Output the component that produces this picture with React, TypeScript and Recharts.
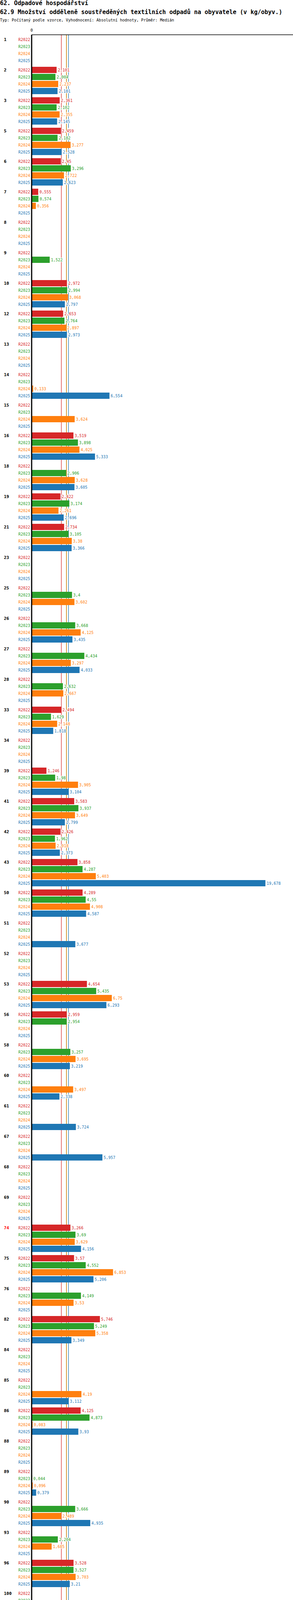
import { BarChart, Bar, XAxis, YAxis, ReferenceLine, LabelList } from "recharts";

const MONO = "'DejaVu Sans Mono', monospace";

const groups = [
  "1", "2", "3", "5", "6", "7", "8", "9", "10", "12",
  "13", "14", "15", "16", "18", "19", "21", "23", "25", "26",
  "27", "28", "33", "34", "39", "41", "42", "43", "50", "51",
  "52", "53", "56", "58", "60", "61", "67", "68", "69", "74",
  "75", "76", "82", "84", "85", "86", "88", "89", "90", "93",
  "96", "100", "101", "102", "106", "111", "112", "113", "114", "115",
  "118", "121", "122", "125", "126", "129", "130", "131", "132", "134",
  "135", "136", "138", "139", "140", "141", "144", "145", "146", "147",
  "151", "152", "153", "154", "155", "1000", "9999",
];

const highlighted = ["74"];

const r2022 = [
  null, 2.101, 2.361, 2.459, 2.45, 0.555, null, null, 2.972, 2.653,
  null, 0, null, 3.519, null, 2.422, 2.734, null, null, null,
  null, null, 2.494, 0, 1.246, 3.583, 2.426, 3.858, 4.289, 0,
  null, 4.654, 2.959, null, null, 0, null, null, null, 3.266,
  3.57, null, 5.746, null, 0, 4.125, null, 0, null, null,
  3.528, null, null, 3.135, null, 2.819, 0, 0, null, 2.656,
  null, 3.466, null, 4.024, 3.236, null, null, null, 2.011, 2.87,
  4.319, null, null, 2.506, 0.098, 1.753, 0, 0, 0.072, null,
  null, null, null, null, null, null, null,
];

const r2023 = [
  null, 2.004, 2.102, 2.182, 3.296, 0.574, null, 1.522, 2.994, 2.764,
  null, 0, null, 3.898, 2.906, 3.174, 3.105, null, 3.4, 3.668,
  4.434, 2.632, 1.629, 0, 1.98, 3.937, 1.962, 4.287, 4.55, 0,
  null, 5.435, 2.954, 3.257, null, 0, null, null, null, 3.69,
  4.552, 4.149, 5.249, null, 0, 4.873, null, 0.044, 3.666, 2.204,
  3.527, null, 0, 3.17, 3.927, 2.912, 0, 0, 2.183, 3.685,
  null, 4.285, null, 3.651, 3.317, 0.251, null, null, 2.866, 1.192,
  3.958, 3.487, null, 1.862, 1.233, 2.538, 0.269, 3.719, 0, 3.516,
  3.516, 1.311, null, null, null, null, null,
];

const r2024 = [
  null, 2.237, 2.355, 3.277, 2.722, 0.356, null, null, 3.068, 2.897,
  null, 0.133, 3.624, 4.025, 3.628, 2.261, 3.38, null, 3.602, 4.125,
  3.297, 2.667, 2.148, 0, 3.905, 3.649, 2.018, 5.403, 4.908, 0,
  null, 6.75, null, 3.695, 3.497, 0, null, null, null, 3.629,
  6.853, 3.53, 5.358, null, 4.19, 0.083, null, 0.096, 2.489, 1.685,
  3.703, null, 0, 3.195, 0, 1.979, 0, 1.571, 2.446, 2.868,
  null, 4.336, null, 4.115, 3.803, 0, null, null, 2.762, 1.269,
  4.548, 3.313, null, 1.832, 1.348, 2.931, 0.315, 4.442, 0, 3.728,
  4.049, 1.294, 4.668, null, null, null, null,
];

const r2025 = [
  null, 2.181, 2.145, 2.528, 2.623, null, null, null, 2.797, 2.973,
  null, 6.554, null, 5.333, 3.605, 2.696, 3.366, null, null, 3.435,
  4.033, null, 1.818, 0, 3.104, 2.799, 2.373, 19.678, 4.587, 3.677,
  null, 6.293, null, 3.219, 2.338, 3.724, 5.957, null, null, 4.156,
  5.206, null, 3.349, null, 3.112, 3.93, null, 0.379, 4.935, null,
  3.21, null, 2.303, 4.06, 2.604, 1.41, null, 1.147, 2.108, 3.189,
  null, 3.159, null, 4.22, 3.39, 0, null, null, 2.394, 1.33,
  4.423, 3.164, null, 2.691, 1.369, 2.67, 0.504, 0.969, 1.336, 1.885,
  3.51, null, 6.103, 0, null, null, null,
];

const periods = ["R2022", "R2023", "R2024", "R2025"];
const colors = ["#d62728", "#2ca02c", "#ff7f0e", "#1f77b4"];
const medians = [2.5, 2.933, 2.931, 3.104];
const mins = [0, 0, 0, 0];
const maxs = [5.746, 5.435, 6.853, 19.678];
const series = [r2022, r2023, r2024, r2025];

const fmt = (v: number | null) => (v == null ? "NA" : String(v).replace(".", ","));

const rows = groups.map((id, i) => {
  const row: Record<string, string | number> = { id };
  series.forEach((s, k) => {
    row["v" + k] = s[i] ?? 0;
    row["l" + k] = fmt(s[i]);
  });
  return row;
});

const TOP = 89;
const BAND = 78;
const BAR = 16;
const GAP = 2;
const OFFSET = Math.floor((BAND - (4 * BAR + 3 * GAP)) / 2);
const rowOffset = (k: number) => -BAND / 2 + OFFSET + BAR / 2 + k * (BAR + GAP);
const chartH = TOP + groups.length * BAND + 5;

function GroupTick(props: any) {
  const { y, payload } = props;
  const red = highlighted.includes(String(payload.value));
  return (
    <g fontFamily={MONO}>
      <text x={10} y={y + rowOffset(0)} dominantBaseline="central" fontSize={11} fontWeight="bold" fill={red ? "#ff0000" : "#000"}>
        {payload.value}
      </text>
      {periods.map((p, k) => (
        <text key={p} x={77} y={y + rowOffset(k)} dominantBaseline="central" textAnchor="end" fontSize={10} fill={colors[k]}>
          {p}
        </text>
      ))}
    </g>
  );
}

const makeLabel = (color: string) => (props: any) => {
  const vb = props.viewBox ?? props;
  const x = Number(vb.x ?? props.x);
  const y = Number(vb.y ?? props.y);
  const w = Number(vb.width ?? props.width) || 0;
  const h = Number(vb.height ?? props.height) || 0;
  return (
    <text x={x + w + 3} y={y + h / 2} dominantBaseline="central" fontSize={10} fontFamily={MONO} fill={color} stroke="#fff" strokeWidth={3} paintOrder="stroke">
      {props.value}
    </text>
  );
};

const textStyle = (size: number, color: string, bold = false): React.CSSProperties => ({
  position: "absolute",
  fontFamily: MONO,
  fontSize: size,
  lineHeight: size + 2 + "px",
  color,
  fontWeight: bold ? "bold" : "normal",
  whiteSpace: "pre",
});

export default function App() {
  return (
    <div style={{ position: "relative", width: 750, height: 7028, background: "#fff", overflow: "hidden" }}>
      <style>{"body{margin:0}"}</style>
      <div style={{ ...textStyle(15, "#000", true), left: 0, top: 0 }}>62. Odpadové hospodářství</div>
      <div style={{ ...textStyle(15, "#000", true), left: 0, top: 23 }}>
        62.9 Množství odděleně soustředěných textilních odpadů na obyvatele (v kg/obyv.)
      </div>
      <div style={{ ...textStyle(10, "#000"), left: 0, top: 46 }}>
        Typ: Počítaný podle vzorce, Vyhodnocení: Absolutní hodnoty, Průměr: Medián
      </div>
      <div style={{ position: "absolute", left: 0, top: 0 }}>
        <BarChart
          width={750}
          height={chartH}
          data={rows}
          layout="vertical"
          margin={{ top: TOP - 20, right: 0, bottom: 5, left: 0 }}
          barSize={BAR}
          barGap={GAP}
        >
          <XAxis
            type="number"
            orientation="top"
            domain={[0, 22]}
            ticks={[0]}
            height={20}
            allowDataOverflow
            axisLine={{ stroke: "#000", strokeWidth: 1.5 }}
            tickLine={false}
            tickMargin={2}
            tick={{ fontSize: 10, fill: "#000", fontFamily: MONO }}
          />
          <YAxis
            type="category"
            dataKey="id"
            width={81}
            interval={0}
            axisLine={{ stroke: "#000", strokeWidth: 3 }}
            tickLine={false}
            tick={(p: any) => <GroupTick {...p} />}
          />
          {medians.map((m, k) => (
            <ReferenceLine key={k} x={m} stroke={colors[k]} strokeWidth={1.3} zIndex={-10} />
          ))}
          {periods.map((p, k) => (
            <Bar key={p} dataKey={"v" + k} fill={colors[k]} isAnimationActive={false}>
              <LabelList dataKey={"l" + k} content={makeLabel(colors[k])} />
            </Bar>
          ))}
        </BarChart>
      </div>
      {periods.map((p, k) => (
        <div
          key={p}
          style={{ ...textStyle(10, colors[k]), left: k % 2 === 0 ? 79 : 379, top: (k < 2 ? 6900 : 6920) - 6 }}
        >
          {`Období[${p}]: Realita - ${p.slice(1)}`}
        </div>
      ))}
      {periods.map((p, k) => (
        <div key={"s" + p}>
          <div style={{ ...textStyle(10, colors[k]), left: 79, top: 6950 + k * 20 - 6 }}>{`Medián: ${fmt(medians[k])}`}</div>
          <div style={{ ...textStyle(10, colors[k]), left: 330, top: 6950 + k * 20 - 6 }}>{`Min: ${fmt(mins[k])}`}</div>
          <div style={{ ...textStyle(10, colors[k]), left: 530, top: 6950 + k * 20 - 6 }}>{`Max: ${fmt(maxs[k])}`}</div>
        </div>
      ))}
    </div>
  );
}
